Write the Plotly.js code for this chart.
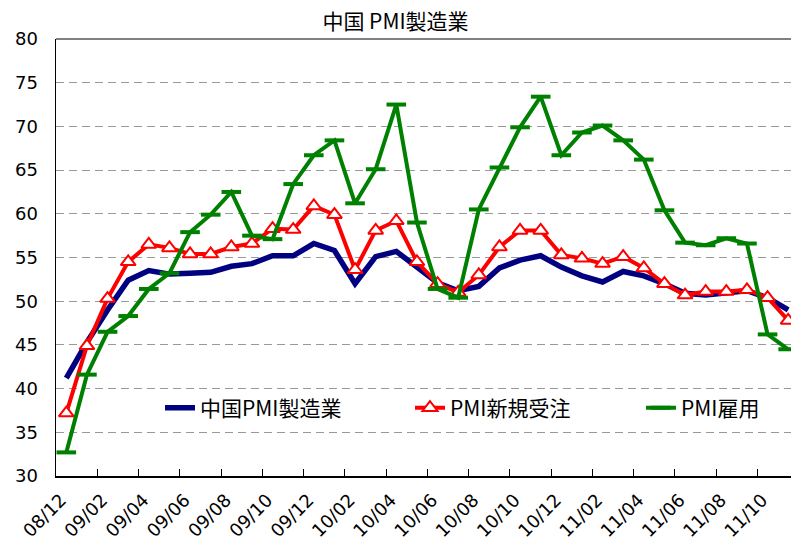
<!DOCTYPE html>
<html>
<head>
<meta charset="utf-8">
<script src="https://cdn.plot.ly/plotly-3.0.1.min.js"></script>
<style>html,body{margin:0;padding:0;background:#fff}#chart{width:791px;height:546px}</style>
</head>
<body>
<div id="chart"></div>
<script>
// Months 2008/12 .. 2011/11
const months = ["08/12","09/01","09/02","09/03","09/04","09/05","09/06","09/07","09/08","09/09","09/10","09/11",
  "09/12","10/01","10/02","10/03","10/04","10/05","10/06","10/07","10/08","10/09","10/10","10/11",
  "10/12","11/01","11/02","11/03","11/04","11/05","11/06","11/07","11/08","11/09","11/10","11/11"];
const tickLabels = ["08/12","09/02","09/04","09/06","09/08","09/10","09/12","10/02","10/04","10/06",
  "10/08","10/10","10/12","11/02","11/04","11/06","11/08","11/10"];
const pmiManufacturing = [41.2,45.3,49.0,52.4,53.5,53.1,53.2,53.3,54.0,54.3,55.2,55.2,
  56.6,55.8,52.0,55.1,55.7,53.9,52.1,51.2,51.7,53.8,54.7,55.2,
  53.9,52.9,52.2,53.4,52.9,52.0,50.9,50.7,50.9,51.2,50.4,49.0];
const pmiNewOrders = [37.2,44.9,50.3,54.5,56.5,56.1,55.4,55.4,56.2,56.6,58.3,58.2,
  60.9,59.9,53.6,58.1,59.2,54.5,52.0,51.0,53.0,56.2,58.1,58.1,
  55.3,54.9,54.3,55.1,53.8,52.0,50.7,51.1,51.1,51.3,50.4,47.8];
const pmiEmployment = [32.7,41.6,46.5,48.3,51.4,53.2,57.9,59.9,62.5,57.5,57.1,63.4,
  66.7,68.4,61.2,65.1,72.5,59.0,51.4,50.4,60.5,65.3,69.9,73.4,
  66.7,69.3,70.1,68.4,66.2,60.4,56.7,56.4,57.2,56.6,46.2,44.5];
const seriesNames = ["中国PMI製造業","PMI新規受注","PMI雇用"];

const idx = months.map((m, i) => i);
const tickPos = tickLabels.map(t => months.indexOf(t) - 0.5);

const cjk = '"Noto Sans CJK JP", "Liberation Sans", sans-serif';
const num = '"DejaVu Sans", sans-serif';

const traces = [
  {x: idx, y: pmiManufacturing, name: seriesNames[0], type: 'scatter', mode: 'lines',
   line: {color: '#000080', width: 5.5}, legend: 'legend', text: months, hoverinfo: 'text+y'},
  {x: idx, y: pmiNewOrders, name: seriesNames[1], type: 'scatter', mode: 'lines+markers',
   line: {color: '#ff0000', width: 4},
   marker: {symbol: 'triangle-up', size: 13, color: '#ffffff', line: {color: '#ff0000', width: 2}},
   legend: 'legend2', text: months, hoverinfo: 'text+y'},
  {x: idx, y: pmiEmployment, name: seriesNames[2], type: 'scatter', mode: 'lines+markers',
   line: {color: '#008000', width: 4},
   marker: {symbol: 'line-ew', size: 14, color: '#008000', line: {color: '#008000', width: 4}},
   legend: 'legend3', text: months, hoverinfo: 'text+y'}
];

const W = 735, L = 56;
const px = v => (v - L) / W;
const legY = (476 - 408) / 437;
const legendBase = {orientation: 'h', yanchor: 'middle', y: legY, xanchor: 'left',
  bgcolor: 'rgba(0,0,0,0)', font: {family: cjk, size: 21, color: '#000'}};

const layout = {
  width: 791, height: 546,
  margin: {l: 56, r: 0, t: 39, b: 70, pad: 0},
  paper_bgcolor: '#fff', plot_bgcolor: '#fff',
  title: {text: '中国 PMI製造業', x: 0.5, xref: 'container', y: 1 - 22/546, yref: 'container',
    yanchor: 'middle', xanchor: 'center', font: {family: cjk, size: 21, color: '#000'}},
  xaxis: {range: [-0.5, -0.5 + W / 20.625], tickmode: 'array', tickvals: tickPos, ticktext: tickLabels,
    ticks: 'inside', ticklen: 7, tickwidth: 1, tickcolor: '#000', tickangle: -45,
    ticklabelstandoff: 5, ticklabelshift: 5,
    showgrid: false, zeroline: false, showline: true, linecolor: '#000', linewidth: 1.5,
    tickfont: {family: num, size: 18, color: '#000'}, fixedrange: true},
  yaxis: {range: [30, 80], dtick: 5, tick0: 30, ticks: '', showgrid: true, gridcolor: '#999999',
    griddash: '8px,5px', gridwidth: 1, zeroline: false, showline: true, linecolor: '#000', linewidth: 1.5,
    tickfont: {family: num, size: 18, color: '#000'}, ticklabelstandoff: 13, fixedrange: true},
  shapes: [
    {type: 'rect', xref: 'paper', yref: 'y', x0: px(117), x1: 1, y0: 33.6, y1: 41.3,
     fillcolor: '#ffffff', line: {width: 0}, layer: 'between'},
    {type: 'line', xref: 'paper', yref: 'paper', x0: 0, x1: 1, y0: 1, y1: 1,
     line: {color: '#808080', width: 2}}
  ],
  legend: Object.assign({}, legendBase, {x: px(160)}),
  legend2: Object.assign({}, legendBase, {x: px(410)}),
  legend3: Object.assign({}, legendBase, {x: px(641)}),
  showlegend: true
};

Plotly.newPlot('chart', traces, layout, {displayModeBar: false, staticPlot: true});
</script>
</body>
</html>
